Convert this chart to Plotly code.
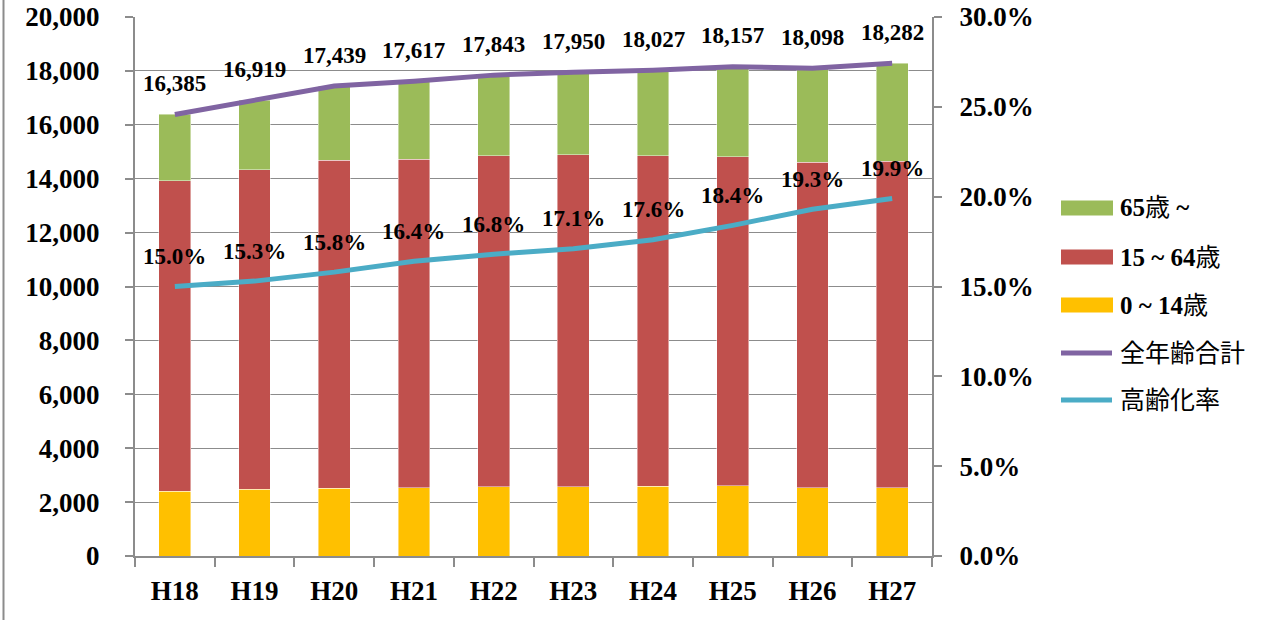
import plotly.graph_objects as go

categories = ["H18", "H19", "H20", "H21", "H22", "H23", "H24", "H25", "H26", "H27"]
age_0_14 = [2400, 2480, 2510, 2530, 2570, 2570, 2590, 2610, 2540, 2540]
age_15_64 = [11527, 11850, 12174, 12198, 12275, 12311, 12264, 12206, 12065, 12104]
age_65 = [2458, 2589, 2755, 2889, 2998, 3069, 3173, 3341, 3493, 3638]
total = [16385, 16919, 17439, 17617, 17843, 17950, 18027, 18157, 18098, 18282]
aging_rate = [0.150, 0.153, 0.158, 0.164, 0.168, 0.171, 0.176, 0.184, 0.193, 0.199]

C_GREEN = "#9BBB59"
C_RED = "#C0504D"
C_YELLOW = "#FFC000"
C_PURPLE = "#8064A2"
C_TEAL = "#4BACC6"
GRID = "#8C8C8C"
SERIF = "Liberation Serif, Noto Sans CJK JP"

W, H = 1277, 620
L, R, T, B = 135, 932, 17, 556  # plot area in pixels


def px_x(px):
    return (px - L) / (R - L)


def px_y(py):
    return (B - py) / (B - T)


fig = go.Figure()
bar_line = dict(color="rgba(255,255,255,0.55)", width=0.8)
fig.add_trace(go.Bar(x=categories, y=age_0_14, name="0 ~ 14歳", marker=dict(color=C_YELLOW, line=bar_line)))
fig.add_trace(go.Bar(x=categories, y=age_15_64, name="15 ~ 64歳", marker=dict(color=C_RED, line=bar_line)))
fig.add_trace(go.Bar(x=categories, y=age_65, name="65歳 ~", marker=dict(color=C_GREEN, line=bar_line)))
fig.add_trace(go.Scatter(x=categories, y=total, name="全年齢合計", mode="lines",
                         line=dict(color=C_PURPLE, width=5)))
fig.add_trace(go.Scatter(x=categories, y=aging_rate, name="高齢化率", mode="lines",
                         line=dict(color=C_TEAL, width=5), yaxis="y2"))

labfont = dict(family=SERIF, size=23, color="black", weight="bold")
annotations = []
for c, v in zip(categories, total):
    annotations.append(dict(x=c, y=v, xref="x", yref="y", text=f"{v:,}", showarrow=False,
                            yshift=31, font=labfont))
for c, v in zip(categories, aging_rate):
    annotations.append(dict(x=c, y=v, xref="x", yref="y2", text=f"{v*100:.1f}%", showarrow=False,
                            yshift=30, font=labfont))

# custom legend
shapes = []
legend_items = [
    ("<b>65</b>歳 <b>~</b>", C_GREEN, "bar", 208),
    ("<b>15 ~ 64</b>歳", C_RED, "bar", 257),
    ("<b>0 ~ 14</b>歳", C_YELLOW, "bar", 305),
    ("全年齢合計", C_PURPLE, "line", 353),
    ("高齢化率", C_TEAL, "line", 400),
]
for label, col, kind, cy in legend_items:
    if kind == "bar":
        shapes.append(dict(type="rect", xref="paper", yref="paper",
                           x0=px_x(1061), x1=px_x(1113), y0=px_y(cy + 7.5), y1=px_y(cy - 7.5),
                           fillcolor=col, line=dict(width=0)))
    else:
        shapes.append(dict(type="line", xref="paper", yref="paper",
                           x0=px_x(1061), x1=px_x(1112), y0=px_y(cy), y1=px_y(cy),
                           line=dict(color=col, width=5)))
    annotations.append(dict(x=px_x(1118), y=px_y(cy), xref="paper", yref="paper", text=label,
                            showarrow=False, xanchor="left", yanchor="middle",
                            font=dict(family=SERIF, size=25, color="black")))

# outer frame line on the left
shapes.append(dict(type="line", xref="paper", yref="paper", x0=px_x(3.5), x1=px_x(3.5),
                   y0=px_y(0), y1=px_y(H), line=dict(color="#8C8C8C", width=2)))

tickfont = dict(family=SERIF, size=27, color="black", weight="bold")
fig.update_layout(
    width=W, height=H, autosize=False,
    margin=dict(l=L, r=W - R, t=T, b=H - B, pad=0),
    plot_bgcolor="white", paper_bgcolor="white",
    barmode="stack", bargap=0.6,
    showlegend=False,
    annotations=annotations,
    shapes=shapes,
    xaxis=dict(type="category", tickson="boundaries", ticks="outside", ticklen=9, tickwidth=2,
               tickcolor=GRID, showline=True, linecolor=GRID, linewidth=2, automargin=False,
               tickfont=tickfont, showgrid=False, ticklabelstandoff=10),
    yaxis=dict(range=[0, 20000], dtick=2000, tickformat=",", ticks="outside", ticklen=8,
               tickwidth=2, tickcolor=GRID, showline=True, linecolor=GRID, linewidth=2,
               showgrid=True, gridcolor=GRID, gridwidth=1.3, zeroline=False, automargin=False,
               tickfont=tickfont, ticklabelstandoff=20, mirror=False),
    yaxis2=dict(range=[0, 0.30], dtick=0.05, tickformat=".1%", overlaying="y", side="right",
                ticks="outside", ticklen=8, tickwidth=2, tickcolor=GRID, showline=True,
                linecolor=GRID, linewidth=2, showgrid=False, zeroline=False, automargin=False,
                tickfont=tickfont, ticklabelstandoff=12),
)

fig.write_html("out.html", config={"displayModeBar": False},
               post_script="document.body.style.margin='0';document.body.style.overflow='hidden';")
